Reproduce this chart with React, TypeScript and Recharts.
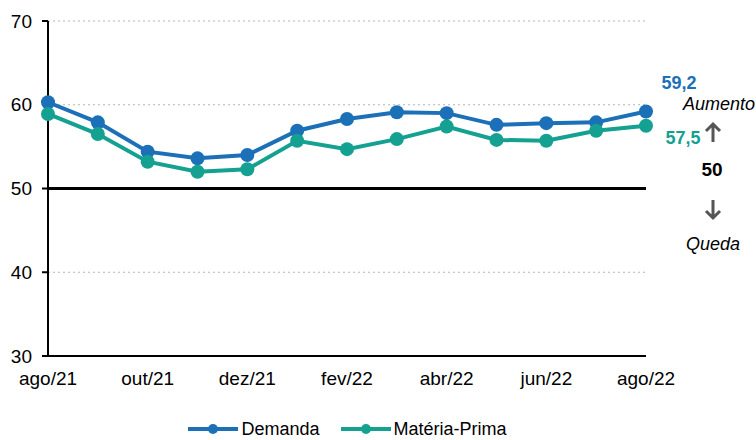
import React from 'react';
import { LineChart, Line, XAxis, YAxis, CartesianGrid, ReferenceLine, LabelList, Customized } from 'recharts';

const meses = ['ago/21', 'set/21', 'out/21', 'nov/21', 'dez/21', 'jan/22', 'fev/22', 'mar/22', 'abr/22', 'mai/22', 'jun/22', 'jul/22', 'ago/22'];
const demanda = [60.3, 57.9, 54.4, 53.6, 54.0, 56.9, 58.3, 59.1, 59.0, 57.6, 57.8, 57.9, 59.2];
const materiaPrima = [58.9, 56.5, 53.2, 52.0, 52.3, 55.7, 54.7, 55.9, 57.4, 55.8, 55.7, 56.9, 57.5];
const yTicks = [30, 40, 50, 60, 70];

const data = meses.map((m, i) => ({ mes: m, demanda: demanda[i], materia: materiaPrima[i] }));

const FONT = "'Liberation Sans', Arial, sans-serif";
const AZUL = '#1b70b7';
const VERDE = '#14a192';

const fmt = (v: number) => v.toFixed(1).replace('.', ',');

const lastLabel = (color: string, dx: number, dy: number) => (props: any) => {
  const { x, y, index, value } = props;
  if (index !== data.length - 1) return null;
  return (
    <text x={x + dx} y={y + dy} fill={color} fontFamily={FONT} fontSize={18} fontWeight="bold" textAnchor="middle" dominantBaseline="middle">
      {fmt(value)}
    </text>
  );
};

const Notas = () => (
  <g fontFamily={FONT} fill="#000">
    <text x={719} y={105} fontSize={18} fontStyle="italic" textAnchor="middle" dominantBaseline="middle">Aumento</text>
    <g stroke="#555" strokeWidth={3} fill="none">
      <path d="M713 142 V125 M706 131 L713 124 L720 131" />
      <path d="M713 200 V217 M706 211 L713 218 L720 211" />
    </g>
    <text x={712} y={171} fontSize={19} fontWeight="bold" textAnchor="middle" dominantBaseline="middle">50</text>
    <text x={713} y={245} fontSize={18} fontStyle="italic" textAnchor="middle" dominantBaseline="middle">Queda</text>
  </g>
);

const LegendItem = ({ color, label }: { color: string; label: string }) => (
  <span style={{ display: 'inline-flex', alignItems: 'center', margin: '0 10px' }}>
    <svg width={52} height={12}>
      <line x1={1} y1={6} x2={51} y2={6} stroke={color} strokeWidth={4} />
      <circle cx={26} cy={6} r={5} fill={color} />
    </svg>
    <span style={{ marginLeft: 2 }}>{label}</span>
  </span>
);

export default function App() {
  return (
    <div style={{ position: 'absolute', left: 0, top: 0, width: 756, height: 440, background: '#fff', fontFamily: FONT }}>
      <LineChart width={756} height={440} data={data} margin={{ top: 21, right: 110, bottom: 34, left: 0 }}>
        <CartesianGrid vertical={false} stroke="#b5b5b5" strokeDasharray="2 3" />
        <XAxis
          dataKey="mes"
          interval={1}
          tickLine={false}
          axisLine={{ stroke: '#000', strokeWidth: 2 }}
          tick={{ fill: '#000', fontSize: 19, fontFamily: FONT }}
          tickMargin={10}
          height={50}
        />
        <YAxis
          domain={[30, 70]}
          ticks={yTicks}
          width={48}
          tickSize={6}
          tickMargin={10}
          axisLine={{ stroke: '#000', strokeWidth: 2 }}
          tickLine={{ stroke: '#000', strokeWidth: 2 }}
          tick={{ fill: '#000', fontSize: 19, fontFamily: FONT }}
        />
        <ReferenceLine y={50} stroke="#000" strokeWidth={3} />
        <Line dataKey="demanda" stroke={AZUL} strokeWidth={4} dot={{ r: 7, fill: AZUL, stroke: AZUL, strokeWidth: 0 }} isAnimationActive={false}>
          <LabelList dataKey="demanda" content={lastLabel(AZUL, 33, -27)} />
        </Line>
        <Line dataKey="materia" stroke={VERDE} strokeWidth={4} dot={{ r: 7, fill: VERDE, stroke: VERDE, strokeWidth: 0 }} isAnimationActive={false}>
          <LabelList dataKey="materia" content={lastLabel(VERDE, 37, 14)} />
        </Line>
        <Customized component={Notas} />
      </LineChart>
      <div style={{ position: 'absolute', left: 48, width: 598, top: 420, fontSize: 18, lineHeight: '18px', color: '#000', display: 'flex', justifyContent: 'center' }}>
        <LegendItem color={AZUL} label="Demanda" />
        <LegendItem color={VERDE} label="Matéria-Prima" />
      </div>
    </div>
  );
}
